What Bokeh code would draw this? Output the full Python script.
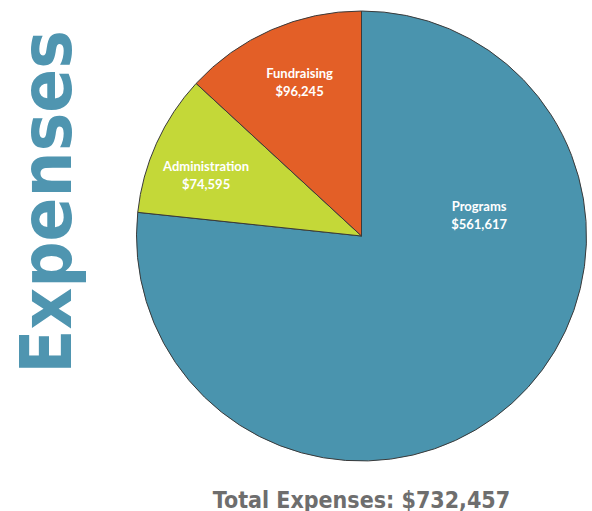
import math
from bokeh.plotting import figure
from bokeh.models import Range1d, ColumnDataSource
from bokeh.core.properties import value
from bokeh.embed import file_html
from bokeh.resources import INLINE

# ---- data ----
categories = ["Programs", "Administration", "Fundraising"]
amounts = [561617, 74595, 96245]
total_label = "Total Expenses: $732,457"
title_text = "Expenses"

# ---- style ----
colors = ["#4a94ae", "#c4d838", "#e35f27"]
label_angle_deg = [80.5, 291, 338]    # clockwise from 12 o'clock
label_dist = [0.53, 0.74, 0.735]      # fraction of radius

W, H = 592, 511
p = figure(width=W, height=H, x_range=Range1d(0, W), y_range=Range1d(0, H),
           output_backend="svg", toolbar_location=None, min_border=0)
p.axis.visible = False
p.grid.visible = False
p.outline_line_color = None
p.background_fill_color = "white"

cx, cy, r = 361, 275.5, 225
total = sum(amounts)
starts, ends = [], []
cum = 0
for a in amounts:
    starts.append(math.pi / 2 - 2 * math.pi * cum / total)
    cum += a
    ends.append(math.pi / 2 - 2 * math.pi * cum / total)

src = ColumnDataSource(dict(start=starts, end=ends, color=colors))
p.wedge(x=cx, y=cy, radius=r, start_angle="start", end_angle="end",
        direction="clock", fill_color="color", line_color="#3a3a3a",
        line_width=1, source=src)

lx, ly, names, vals = [], [], [], []
for cat, a, ang, d in zip(categories, amounts, label_angle_deg, label_dist):
    t = math.radians(ang)
    lx.append(cx + r * d * math.sin(t))
    ly.append(cy + r * d * math.cos(t))
    names.append(cat)
    vals.append("${:,}".format(a))

lsrc = ColumnDataSource(dict(x=lx, y=ly, name=names, val=vals))
p.text(x="x", y="y", text="name", source=lsrc, y_offset=-2,
       text_align="center", text_baseline="bottom", text_color="white",
       text_font=value("Lato"), text_font_style="bold", text_font_size="13px")
p.text(x="x", y="y", text="val", source=lsrc, y_offset=0,
       text_align="center", text_baseline="top", text_color="white",
       text_font=value("Lato"), text_font_style="bold", text_font_size="13px")

p.text(x=[45], y=[309.5], text=[title_text], angle=math.pi / 2,
       text_align="center", text_baseline="middle", text_color="#4f95b0",
       text_font=value("DejaVu Sans Condensed"), text_font_style="bold",
       text_font_size="72px")

p.text(x=[361], y=[12], text=[total_label], text_align="center",
       text_baseline="alphabetic", text_color="#6e6e6e",
       text_font=value("DejaVu Sans Condensed"), text_font_style="bold",
       text_font_size="23px")

open("out.html", "w").write(file_html(p, INLINE))
